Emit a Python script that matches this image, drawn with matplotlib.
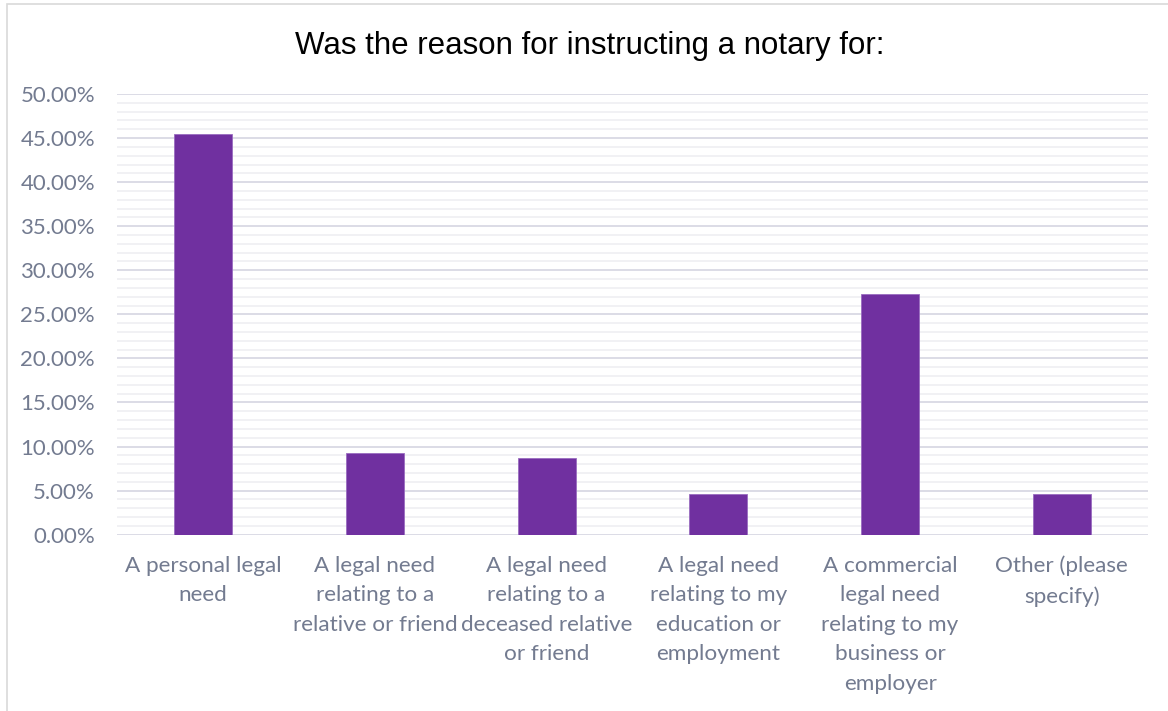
import matplotlib.pyplot as plt
from matplotlib.patches import Rectangle
from matplotlib.ticker import MultipleLocator, PercentFormatter

CATEGORIES = [
    "A personal legal\nneed",
    "A legal need\nrelating to a\nrelative or friend",
    "A legal need\nrelating to a\ndeceased relative\nor friend",
    "A legal need\nrelating to my\neducation or\nemployment",
    "A commercial\nlegal need\nrelating to my\nbusiness or\nemployer",
    "Other (please\nspecify)",
]
VALUES = [45.45, 9.31, 8.67, 4.65, 27.32, 4.65]
TITLE = "Was the reason for instructing a notary for:"

BAR_COLOR = "#7030A0"
TEXT_COLOR = "#737b90"


def main():
    fig = plt.figure(figsize=(11.68, 7.11), dpi=100)
    ax = fig.add_axes([0.1004, 0.2480, 0.8822, 0.6198])

    x = list(range(len(CATEGORIES)))
    ax.bar(x, [v / 100 for v in VALUES], width=0.338, color=BAR_COLOR,
           edgecolor="#9a6cc0", linewidth=0.6, zorder=3)

    ax.set_xlim(-0.5, len(CATEGORIES) - 0.5)
    ax.set_ylim(0, 0.5)
    ax.yaxis.set_major_locator(MultipleLocator(0.05))
    ax.yaxis.set_minor_locator(MultipleLocator(0.01))
    ax.yaxis.set_major_formatter(PercentFormatter(1.0, decimals=2))

    ax.grid(axis="y", which="major", color="#dcdce6", linewidth=1.4, zorder=0)
    ax.grid(axis="y", which="minor", color="#f1f1f4", linewidth=1.4, zorder=0)
    for s in ax.spines.values():
        s.set_visible(False)

    ax.set_xticks(x)
    ax.set_xticklabels(CATEGORIES, fontfamily="Lato", fontsize=16.2,
                       color=TEXT_COLOR, linespacing=1.6)
    ax.tick_params(axis="x", length=0, pad=15)
    ax.tick_params(axis="y", which="both", length=0, pad=16,
                   labelsize=16, labelcolor=TEXT_COLOR)
    for lab in ax.get_yticklabels():
        lab.set_fontfamily("Lato")

    fig.text(0.505, 0.935, TITLE, ha="center", va="center",
             fontfamily="Liberation Sans", fontsize=22.5, color="black")

    border = Rectangle((7 / 1168, -0.01), 1.1, 1 - 4 / 711 + 0.01,
                       transform=fig.transFigure, fill=False,
                       edgecolor="#d9d9d9", linewidth=1.2)
    fig.patches.append(border)

    fig.savefig("out.png", dpi=100, facecolor="white")


if __name__ == "__main__":
    main()
